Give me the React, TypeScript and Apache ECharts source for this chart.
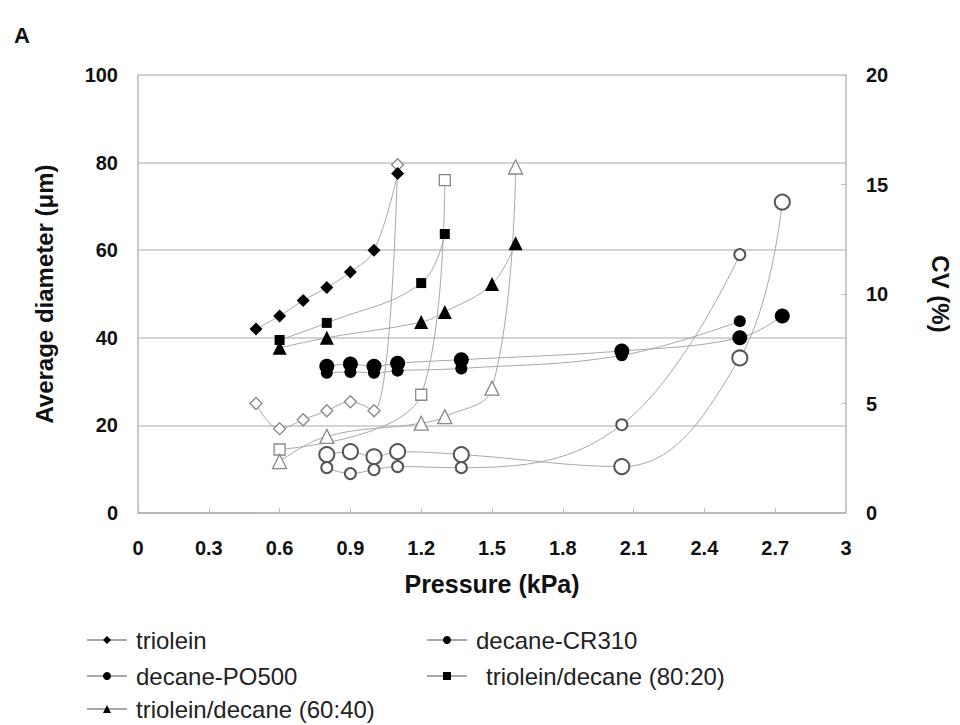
import React, { useEffect, useRef } from "react";
import * as echarts from "echarts";

// x values (kPa) and y values
const trioleinX = [0.5, 0.6, 0.7, 0.8, 0.9, 1.0, 1.1];
const trioleinD = [42, 45, 48.5, 51.5, 55, 60, 77.5];
const trioleinCV = [5.0, 3.85, 4.26, 4.67, 5.08, 4.67, 15.9];

const crX = [0.8, 0.9, 1.0, 1.1, 1.37, 2.05, 2.55, 2.73];
const crD = [33.5, 34, 33.5, 34.2, 35, 37, 40, 45];
const crCV = [2.67, 2.8, 2.57, 2.8, 2.67, 2.12, 7.08, 14.2];

const poX = [0.8, 0.9, 1.0, 1.1, 1.37, 2.05, 2.55];
const poD = [32, 32.2, 32, 32.5, 33, 36, 43.8];
const poCV = [2.07, 1.8, 1.98, 2.12, 2.07, 4.03, 11.8];

const t80X = [0.6, 0.8, 1.2, 1.3];
const t80D = [39.5, 43.4, 52.5, 63.7];
const t80CVX = [0.6, 1.2, 1.3];
const t80CV = [2.9, 5.4, 15.2];

const t60X = [0.6, 0.8, 1.2, 1.3, 1.5, 1.6];
const t60D = [37.7, 40, 43.6, 45.9, 52.3, 61.6];
const t60CV = [2.35, 3.5, 4.1, 4.4, 5.7, 15.8];

const xTicks = [0, 0.3, 0.6, 0.9, 1.2, 1.5, 1.8, 2.1, 2.4, 2.7, 3];

const zip = (xs: number[], ys: number[]) => xs.map((x, i) => [x, ys[i]]);

const FONT = "'Liberation Sans', Arial, sans-serif";
const LINE = "#a8a8a8";

export default function App() {
  const ref = useRef<HTMLDivElement>(null);
  useEffect(() => {
    if (!ref.current) return;
    const chart = echarts.init(ref.current, null, { renderer: "svg" });
    const filled = (name: string, xs: number[], ys: number[], symbol: string, size: number) => ({
      name,
      type: "line",
      yAxisIndex: 0,
      data: zip(xs, ys),
      smooth: 0.4,
      symbol,
      symbolSize: size,
      lineStyle: { color: LINE, width: 1 },
      itemStyle: { color: "#000", borderColor: "#000", borderWidth: 0 },
      z: 3,
    });
    const open = (name: string, xs: number[], ys: number[], symbol: string, size: number, bc: string, bw: number) => ({
      name,
      type: "line",
      yAxisIndex: 1,
      data: zip(xs, ys),
      smooth: 0.4,
      symbol,
      symbolSize: size,
      lineStyle: { color: LINE, width: 1 },
      itemStyle: { color: "#fff", borderColor: bc, borderWidth: bw },
      z: 2,
    });
    const leg = (name: string, left: number, top: number, pad = 4) => ({
      orient: "horizontal",
      left,
      top,
      padding: 0,
      itemWidth: 40,
      itemHeight: 10,
      itemGap: 0,
      textStyle: { fontFamily: FONT, fontSize: 24, color: "#222", padding: [0, 0, 0, pad] },
      data: [name],
    });
    chart.setOption({
      animation: false,
      backgroundColor: "#fff",
      grid: { left: 138, right: 114, top: 75, bottom: 212 },
      graphic: [
        {
          type: "text",
          left: 14,
          top: 24,
          style: { text: "A", font: `bold 22px ${FONT}`, fill: "#111" },
        },
      ],
      legend: [
        leg("triolein", 86, 628),
        leg("decane-PO500", 86, 664),
        leg("triolein/decane (60:40)", 86, 697),
        leg("decane-CR310", 426, 628),
        leg("triolein/decane (80:20)", 426, 664, 14),
      ],
      xAxis: {
        type: "value",
        min: 0,
        max: 3,
        interval: 0.3,
        name: "Pressure (kPa)",
        nameLocation: "middle",
        nameGap: 58,
        nameTextStyle: { fontFamily: FONT, fontSize: 25, fontWeight: "bold", color: "#111" },
        axisLine: { show: true, lineStyle: { color: "#b0b0b0", width: 1.5 } },
        axisTick: { show: true, inside: true, length: 5, lineStyle: { color: "#c0c0c0" } },
        splitLine: { show: false },
        axisLabel: {
          margin: 25,
          fontFamily: FONT,
          fontSize: 20,
          fontWeight: "bold",
          color: "#111",
          formatter: (v: number) => {
            const t = xTicks.find((k) => Math.abs(k - v) < 1e-6);
            return t === undefined ? "" : String(t);
          },
        },
      },
      yAxis: [
        {
          type: "value",
          min: 0,
          max: 100,
          interval: 20,
          name: "Average diameter (\u03bcm)",
          nameLocation: "middle",
          nameGap: 82,
          nameRotate: 90,
          nameTextStyle: { fontFamily: FONT, fontSize: 24, fontWeight: "bold", color: "#111" },
          axisLine: { show: true, lineStyle: { color: "#b8b8b8", width: 1.5 } },
          axisTick: { show: false },
          splitLine: { show: true, lineStyle: { color: "#c4c4c4", width: 1.5 } },
          axisLabel: { margin: 20, fontFamily: FONT, fontSize: 20, fontWeight: "bold", color: "#111" },
        },
        {
          type: "value",
          min: 0,
          max: 20,
          interval: 5,
          position: "right",
          name: "CV (%)",
          nameLocation: "middle",
          nameGap: 82,
          nameRotate: -90,
          nameTextStyle: { fontFamily: FONT, fontSize: 24, fontWeight: "bold", color: "#111" },
          axisLine: { show: true, lineStyle: { color: "#b8b8b8", width: 1.5 } },
          axisTick: { show: true, inside: true, length: 5, lineStyle: { color: "#c0c0c0" } },
          splitLine: { show: false },
          axisLabel: { margin: 20, fontFamily: FONT, fontSize: 20, fontWeight: "bold", color: "#111" },
        },
      ],
      series: [
        filled("triolein", trioleinX, trioleinD, "diamond", 13),
        filled("decane-CR310", crX, crD, "circle", 15),
        filled("decane-PO500", poX, poD, "circle", 12),
        filled("triolein/decane (80:20)", t80X, t80D, "rect", 10),
        filled("triolein/decane (60:40)", t60X, t60D, "triangle", 14),
        open("triolein CV", trioleinX, trioleinCV, "diamond", 12, "#888", 1.3),
        open("decane-CR310 CV", crX, crCV, "circle", 15, "#555", 2),
        open("decane-PO500 CV", poX, poCV, "circle", 11, "#555", 2),
        open("triolein/decane (80:20) CV", t80CVX, t80CV, "rect", 11, "#888", 1.3),
        open("triolein/decane (60:40) CV", t60X, t60CV, "triangle", 14, "#888", 1.3),
      ],
    });
    return () => chart.dispose();
  }, []);
  return <div ref={ref} style={{ width: 960, height: 725, position: "absolute", left: 0, top: 0 }} />;
}
